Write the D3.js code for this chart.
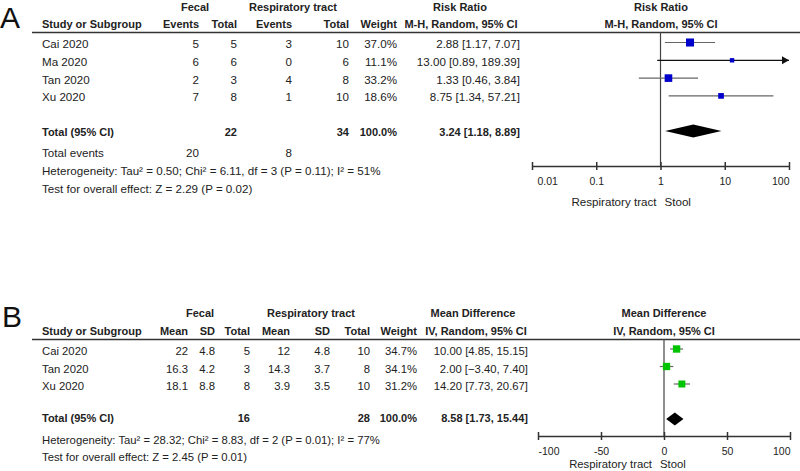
<!DOCTYPE html>
<html><head><meta charset="utf-8">
<script src="https://cdn.jsdelivr.net/npm/d3@7"></script>
<style>
body{margin:0;background:#fff;}
svg{display:block;font-family:"Liberation Sans",Arial,sans-serif;font-size:11px;fill:#222;}
</style></head>
<body><svg id="c" width="800" height="471"></svg>
<script>
// ---------- Panel A data ----------
const studiesA = ["Cai 2020","Ma 2020","Tan 2020","Xu 2020"];
const fecalEventsA = [5,6,2,7];
const fecalTotalA = [5,6,3,8];
const respEventsA = [3,0,4,1];
const respTotalA = [10,6,8,10];
const weightA = [37.0,11.1,33.2,18.6];
const rrA = [2.88,13.00,1.33,8.75];
const rrLowA = [1.17,0.89,0.46,1.34];
const rrHighA = [7.07,189.39,3.84,57.21];
const totalA = {est:3.24, lo:1.18, hi:8.89, fecalN:22, respN:34, fecalEv:20, respEv:8};
const hetA = "Heterogeneity: Tau\u00b2 = 0.50; Chi\u00b2 = 6.11, df = 3 (P = 0.11); I\u00b2 = 51%";
const testA = "Test for overall effect: Z = 2.29 (P = 0.02)";
const ticksA = [0.01,0.1,1,10,100];
const tickLabelsA = ["0.01","0.1","1","10","100"];

// ---------- Panel B data ----------
const studiesB = ["Cai 2020","Tan 2020","Xu 2020"];
const fecalMeanB = [22,16.3,18.1];
const fecalSDB = [4.8,4.2,8.8];
const fecalNB = [5,3,8];
const respMeanB = [12,14.3,3.9];
const respSDB = [4.8,3.7,3.5];
const respNB = [10,8,10];
const weightB = [34.7,34.1,31.2];
const mdB = [10.00,2.00,14.20];
const mdLowB = [4.85,-3.40,7.73];
const mdHighB = [15.15,7.40,20.67];
const totalB = {est:8.58, lo:1.73, hi:15.44, fecalN:16, respN:28};
const hetB = "Heterogeneity: Tau\u00b2 = 28.32; Chi\u00b2 = 8.83, df = 2 (P = 0.01); I\u00b2 = 77%";
const testB = "Test for overall effect: Z = 2.45 (P = 0.01)";
const ticksB = [-100,-50,0,50,100];
const tickLabelsB = ["-100","-50","0","50","100"];

const svg = d3.select("#c");
const f2 = d3.format(".2f"), f1 = d3.format(".1f");
const ci = (e,l,h) => `${f2(e)} [${f2(l)}, ${f2(h)}]`;

let REG = 11.6;
function txt(g, x, y, s, anchor, bold){
  return g.append("text").attr("x",x).attr("y",y).attr("text-anchor",anchor||"start")
    .attr("font-size", bold ? 11 : REG)
    .attr("font-weight",bold?"bold":"normal").text(s);
}
function axis(g, scale, y, ticks, labels, null0, lblY, resOff, stoolOff, firstOff){
  const ax = d3.axisBottom(scale).tickValues(ticks).tickSize(0).tickFormat((d,i)=>labels[i]);
  const a = g.append("g").attr("transform",`translate(0,${y})`).call(ax);
  a.select(".domain").attr("stroke","#333").attr("stroke-width",1.5);
  a.selectAll(".tick line").attr("y1",-4).attr("y2",4).attr("stroke","#333").attr("stroke-width",1.5);
  const n = ticks.length;
  a.selectAll(".tick text").attr("y",19).attr("dy",null).attr("font-size",10.5)
    .attr("font-family","Liberation Sans, Arial, sans-serif").attr("fill","#222")
    .attr("text-anchor",(d,i)=> i===0 ? "start" : (i===n-1 ? "end" : "middle"))
    .attr("x",(d,i)=> i===0 ? firstOff : 0);
  txt(g, scale(null0)+resOff, lblY, "Respiratory tract", "end");
  txt(g, scale(null0)+stoolOff, lblY, "Stool", "start");
}

// ================= PANEL A =================
const gA = svg.append("g");
gA.append("text").attr("x",0).attr("y",28).attr("font-family","Liberation Sans, Arial, sans-serif")
  .attr("font-size",30).attr("fill","#111").text("A");
const xA = d3.scaleLog().domain([0.01,100]).range([532,789]);
const rowA = i => 44 + i*17.8;
const sizeA = d3.scaleSqrt().domain([0,100]).range([0,13.2]);

// headers
txt(gA,195,11,"Fecal","middle",true);
txt(gA,293,11,"Respiratory tract","middle",true);
txt(gA,460,11,"Risk Ratio","middle",true);
txt(gA,661,11,"Risk Ratio","middle",true);
txt(gA,42,28,"Study or Subgroup","start",true);
txt(gA,199,28,"Events","end",true);
txt(gA,237,28,"Total","end",true);
txt(gA,292,28,"Events","end",true);
txt(gA,349,28,"Total","end",true);
txt(gA,397,28,"Weight","end",true);
txt(gA,461,28,"M-H, Random, 95% CI","middle",true);
txt(gA,661,28,"M-H, Random, 95% CI","middle",true);
gA.append("line").attr("x1",32).attr("x2",800).attr("y1",32.5).attr("y2",32.5)
  .attr("stroke","#333").attr("stroke-width",1.5);

// null line
gA.append("line").attr("x1",xA(1)).attr("x2",xA(1)).attr("y1",32).attr("y2",166)
  .attr("stroke","#444").attr("stroke-width",1.2);

studiesA.forEach((s,i)=>{
  const y = rowA(i);
  txt(gA,42,y+4,s);
  txt(gA,199,y+4,fecalEventsA[i],"end");
  txt(gA,237,y+4,fecalTotalA[i],"end");
  txt(gA,292,y+4,respEventsA[i],"end");
  txt(gA,349,y+4,respTotalA[i],"end");
  txt(gA,397,y+4,f1(weightA[i])+"%","end");
  txt(gA,520,y+4,ci(rrA[i],rrLowA[i],rrHighA[i]),"end");
  const my = y-1.5;
  const clipped = rrHighA[i] > 100;
  const x2 = clipped ? xA(100) : xA(rrHighA[i]);
  gA.append("line").attr("x1",xA(rrLowA[i])).attr("x2",x2).attr("y1",my).attr("y2",my)
    .attr("stroke",clipped?"#111":"#666").attr("stroke-width",1.2);
  if(clipped){
    gA.append("path").attr("d",`M${x2},${my} l-7,-4 l0,8 z`).attr("fill","#111");
  }
  const sz = sizeA(weightA[i]);
  gA.append("rect").attr("x",xA(rrA[i])-sz/2).attr("y",my-sz/2).attr("width",sz).attr("height",sz)
    .attr("fill","#0000cc");
});

// total
txt(gA,42,136,"Total (95% CI)","start",true);
txt(gA,237,136,totalA.fecalN,"end",true);
txt(gA,349,136,totalA.respN,"end",true);
txt(gA,397,136,"100.0%","end",true);
txt(gA,520,136,ci(totalA.est,totalA.lo,totalA.hi),"end",true);
{
  const y=131, h=6.5;
  gA.append("path").attr("d",`M${xA(totalA.lo)},${y} L${xA(totalA.est)},${y-h} L${xA(totalA.hi)},${y} L${xA(totalA.est)},${y+h} Z`).attr("fill","#000");
}
txt(gA,42,157,"Total events");
txt(gA,199,157,totalA.fecalEv,"end");
txt(gA,292,157,totalA.respEv,"end");
txt(gA,42,175,hetA);
txt(gA,42,193,testA);
axis(gA,xA,166,ticksA,tickLabelsA,1,206,-4,4,5);

// ================= PANEL B =================
REG = 11.3;
const gB = svg.append("g");
gB.append("text").attr("x",2).attr("y",327).attr("font-family","Liberation Sans, Arial, sans-serif")
  .attr("font-size",30).attr("fill","#111").text("B");
const xB = d3.scaleLinear().domain([-100,100]).range([538,790]);
const rowB = i => 351 + i*17.5;
const sizeB = d3.scaleSqrt().domain([0,100]).range([0,12.5]);

txt(gB,200,317,"Fecal","middle",true);
txt(gB,311,317,"Respiratory tract","middle",true);
txt(gB,473,317,"Mean Difference","middle",true);
txt(gB,664,317,"Mean Difference","middle",true);
txt(gB,42,335,"Study or Subgroup","start",true);
txt(gB,188,335,"Mean","end",true);
txt(gB,215,335,"SD","end",true);
txt(gB,250,335,"Total","end",true);
txt(gB,290,335,"Mean","end",true);
txt(gB,330,335,"SD","end",true);
txt(gB,370,335,"Total","end",true);
txt(gB,417,335,"Weight","end",true);
txt(gB,476,335,"IV, Random, 95% CI","middle",true);
txt(gB,664,335,"IV, Random, 95% CI","middle",true);
gB.append("line").attr("x1",32).attr("x2",800).attr("y1",339.5).attr("y2",339.5)
  .attr("stroke","#333").attr("stroke-width",1.5);
gB.append("line").attr("x1",xB(0)).attr("x2",xB(0)).attr("y1",339).attr("y2",436)
  .attr("stroke","#444").attr("stroke-width",1.2);

studiesB.forEach((s,i)=>{
  const y=rowB(i);
  txt(gB,42,y+4,s);
  txt(gB,188,y+4,fecalMeanB[i],"end");
  txt(gB,215,y+4,fecalSDB[i],"end");
  txt(gB,250,y+4,fecalNB[i],"end");
  txt(gB,290,y+4,respMeanB[i],"end");
  txt(gB,330,y+4,respSDB[i],"end");
  txt(gB,370,y+4,respNB[i],"end");
  txt(gB,417,y+4,f1(weightB[i])+"%","end");
  txt(gB,528,y+4,ci(mdB[i],mdLowB[i],mdHighB[i]),"end");
  const my=y-2;
  gB.append("line").attr("x1",xB(mdLowB[i])).attr("x2",xB(mdHighB[i])).attr("y1",my).attr("y2",my)
    .attr("stroke","#666").attr("stroke-width",1.2);
  const sz=sizeB(weightB[i]);
  gB.append("rect").attr("x",xB(mdB[i])-sz/2).attr("y",my-sz/2).attr("width",sz).attr("height",sz)
    .attr("fill","#00c400");
});
txt(gB,42,422,"Total (95% CI)","start",true);
txt(gB,250,422,totalB.fecalN,"end",true);
txt(gB,370,422,totalB.respN,"end",true);
txt(gB,417,422,"100.0%","end",true);
txt(gB,528,422,ci(totalB.est,totalB.lo,totalB.hi),"end",true);
{
  const y=419, h=6.5;
  gB.append("path").attr("d",`M${xB(totalB.lo)},${y} L${xB(totalB.est)},${y-h} L${xB(totalB.hi)},${y} L${xB(totalB.est)},${y+h} Z`).attr("fill","#000");
}
txt(gB,42,444,hetB);
txt(gB,42,461,testB);
axis(gB,xB,436,ticksB,tickLabelsB,0,468,-12,-4,0);
</script></body></html>
